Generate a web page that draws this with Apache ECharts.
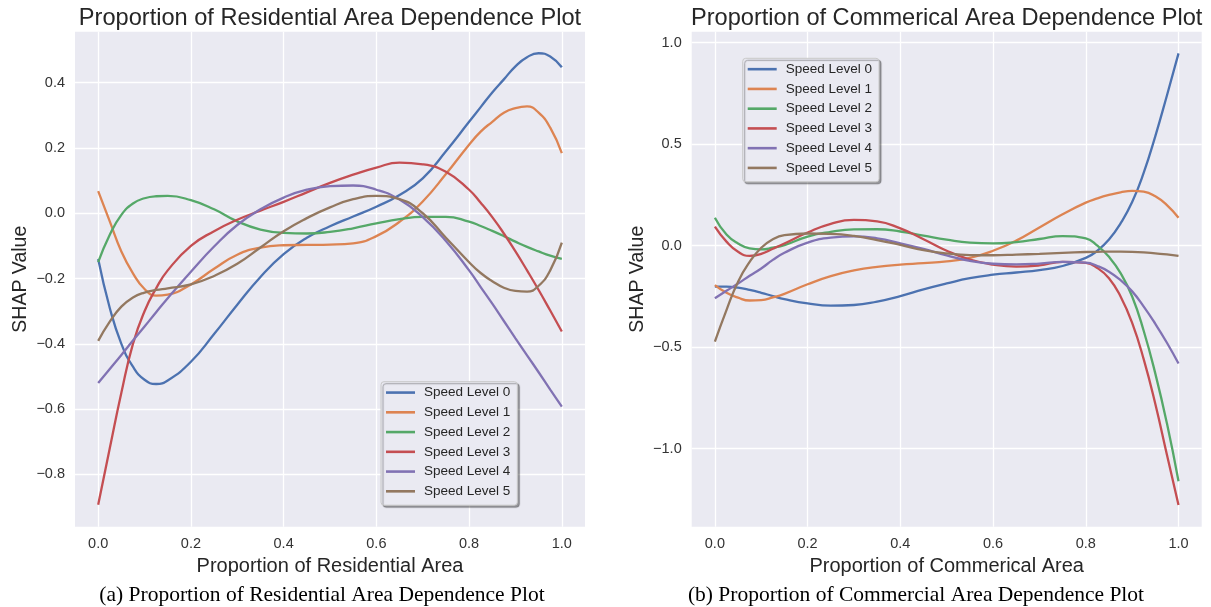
<!DOCTYPE html>
<html>
<head>
<meta charset="utf-8">
<script src="https://cdn.jsdelivr.net/npm/echarts@6/dist/echarts.min.js"></script>
<style>
html,body{margin:0;padding:0;background:#fff;}
#chart{width:1211px;height:607px;}
</style>
</head>
<body>
<div id="chart"></div>
<script>
// ---------- data ----------
const seriesNames = ['Speed Level 0','Speed Level 1','Speed Level 2','Speed Level 3','Speed Level 4','Speed Level 5'];
const xSample = [0,0.025,0.05,0.075,0.1,0.125,0.15,0.2,0.25,0.3,0.35,0.4,0.45,0.5,0.55,0.6,0.65,0.7,0.75,0.8,0.825,0.85,0.875,0.9,0.925,0.95,0.975,1.0];
const xTicks = [0,0.2,0.4,0.6,0.8,1.0];
const yTicksRes = [-0.8,-0.6,-0.4,-0.2,0,0.2,0.4];
const yTicksCom = [-1.0,-0.5,0,0.5,1.0];

// Residential area (left)
const resLevel0 = [-0.14,-0.29,-0.40,-0.47,-0.51,-0.523,-0.512,-0.455,-0.37,-0.28,-0.195,-0.125,-0.075,-0.04,-0.01,0.02,0.056,0.107,0.19,0.28,0.325,0.37,0.41,0.45,0.478,0.49,0.48,0.447];
const resLevel1 = [0.068,-0.025,-0.117,-0.184,-0.232,-0.252,-0.249,-0.218,-0.17,-0.127,-0.105,-0.098,-0.097,-0.096,-0.092,-0.07,-0.026,0.036,0.12,0.21,0.25,0.28,0.308,0.322,0.327,0.308,0.262,0.184];
const resLevel2 = [-0.15,-0.066,-0.005,0.03,0.046,0.052,0.053,0.04,0.012,-0.025,-0.05,-0.06,-0.062,-0.057,-0.046,-0.031,-0.018,-0.011,-0.011,-0.026,-0.039,-0.054,-0.07,-0.087,-0.103,-0.117,-0.13,-0.14];
const resLevel3 = [-0.893,-0.72,-0.55,-0.40,-0.30,-0.23,-0.175,-0.10,-0.055,-0.02,0.008,0.035,0.064,0.093,0.118,0.14,0.155,0.15,0.127,0.072,0.032,-0.012,-0.062,-0.117,-0.175,-0.235,-0.298,-0.362];
const resLevel4 = [-0.52,-0.477,-0.434,-0.39,-0.347,-0.303,-0.26,-0.179,-0.102,-0.036,0.012,0.048,0.072,0.083,0.085,0.072,0.042,-0.012,-0.085,-0.175,-0.226,-0.277,-0.33,-0.383,-0.435,-0.487,-0.54,-0.592];
const resLevel5 = [-0.391,-0.332,-0.286,-0.258,-0.243,-0.235,-0.23,-0.218,-0.192,-0.155,-0.105,-0.055,-0.015,0.018,0.043,0.053,0.043,0.0,-0.075,-0.15,-0.183,-0.208,-0.228,-0.238,-0.24,-0.222,-0.175,-0.09];

// Commercial area (right)
const comLevel0 = [-0.202,-0.202,-0.207,-0.218,-0.232,-0.248,-0.263,-0.284,-0.295,-0.292,-0.275,-0.248,-0.215,-0.186,-0.16,-0.143,-0.132,-0.12,-0.1,-0.06,-0.025,0.03,0.11,0.215,0.36,0.54,0.74,0.947];
const comLevel1 = [-0.194,-0.232,-0.256,-0.27,-0.268,-0.255,-0.237,-0.19,-0.15,-0.122,-0.104,-0.093,-0.086,-0.077,-0.06,-0.025,0.025,0.09,0.155,0.212,0.233,0.25,0.263,0.27,0.266,0.243,0.2,0.138];
const comLevel2 = [0.138,0.055,0.011,-0.013,-0.018,-0.01,0.003,0.045,0.068,0.08,0.081,0.07,0.05,0.03,0.015,0.011,0.018,0.033,0.047,0.036,0.0,-0.055,-0.135,-0.25,-0.42,-0.63,-0.875,-1.16];
const comLevel3 = [0.094,0.02,-0.03,-0.05,-0.04,-0.015,0.011,0.065,0.108,0.127,0.12,0.085,0.032,-0.025,-0.068,-0.093,-0.103,-0.097,-0.08,-0.085,-0.11,-0.16,-0.25,-0.38,-0.56,-0.78,-1.03,-1.277];
const comLevel4 = [-0.259,-0.222,-0.186,-0.148,-0.112,-0.07,-0.035,0.015,0.04,0.046,0.036,0.012,-0.016,-0.048,-0.075,-0.089,-0.092,-0.088,-0.08,-0.083,-0.1,-0.128,-0.17,-0.225,-0.3,-0.385,-0.478,-0.58];
const comLevel5 = [-0.473,-0.317,-0.177,-0.08,-0.01,0.032,0.052,0.06,0.058,0.048,0.028,0.004,-0.022,-0.038,-0.046,-0.047,-0.044,-0.04,-0.035,-0.031,-0.03,-0.029,-0.029,-0.03,-0.033,-0.038,-0.043,-0.05];

const resSeries = [resLevel0,resLevel1,resLevel2,resLevel3,resLevel4,resLevel5];
const comSeries = [comLevel0,comLevel1,comLevel2,comLevel3,comLevel4,comLevel5];

// ---------- style ----------
const colors = ['#4C72B0','#DD8452','#55A868','#C44E52','#8172B3','#937860'];
const SANS = '"Liberation Sans", Arial, sans-serif';
const SERIF = '"Liberation Serif", "Times New Roman", serif';
const fmt = v => (v < 0 ? '\u2212' : '') + Math.abs(v).toFixed(1);

function xAxisDef(gridIndex, name){
  return {
    type:'value', gridIndex, min:-0.05, max:1.05,
    name, nameLocation:'middle', nameGap:25,
    nameTextStyle:{fontFamily:SANS, fontSize:20, color:'#262626'},
    axisLine:{show:false}, axisTick:{show:false, customValues:xTicks},
    axisLabel:{customValues:xTicks, formatter:fmt, margin:10, fontFamily:SANS, fontSize:14.5, color:'#333'},
    splitLine:{show:true, lineStyle:{color:'#ffffff', width:1.3}}
  };
}
function yAxisDef(gridIndex, min, max, ticks){
  return {
    type:'value', gridIndex, min, max,
    name:'SHAP Value', nameLocation:'middle', nameGap:44,
    nameTextStyle:{fontFamily:SANS, fontSize:19.5, color:'#262626'},
    axisLine:{show:false}, axisTick:{show:false, customValues:ticks},
    axisLabel:{customValues:ticks, formatter:fmt, margin:10, fontFamily:SANS, fontSize:14.5, color:'#333'},
    splitLine:{show:true, lineStyle:{color:'#ffffff', width:1.3}}
  };
}
function makeSeries(arr, idx){
  return arr.map((ys, i) => ({
    type:'line', name:seriesNames[i], xAxisIndex:idx, yAxisIndex:idx,
    data: xSample.map((x, k) => [x, ys[k]]),
    smooth:0.5, showSymbol:false, symbol:'none',
    color:colors[i],
    lineStyle:{color:colors[i], width:2.3},
    silent:true, animation:false
  }));
}
function legendDef(left, top){
  return {
    orient:'vertical', left, top,
    data:seriesNames,
    icon:'rect', itemWidth:29, itemHeight:2.6, itemGap:0,
    padding:[1,7,4,5],
    backgroundColor:'#EAEAF2', borderColor:'#c8c8c8', borderWidth:1, borderRadius:3,
    shadowColor:'rgba(0,0,0,0.35)', shadowOffsetX:2, shadowOffsetY:2, shadowBlur:1,
    textStyle:{fontFamily:SANS, fontSize:13.5, color:'#262626', lineHeight:19.75, padding:[0,0,0,4]},
    selectedMode:false
  };
}

const chart = echarts.init(document.getElementById('chart'), null, {renderer:'canvas'});
chart.setOption({
  backgroundColor:'#ffffff',
  animation:false,
  title:[
    {text:'Proportion of Residential Area Dependence Plot', left:330, top:5, padding:0, textAlign:'center',
     textStyle:{fontFamily:SANS, fontSize:23.6, fontWeight:'normal', color:'#262626', lineHeight:26}},
    {text:'Proportion of Commerical Area Dependence Plot', left:946.7, top:5, padding:0, textAlign:'center',
     textStyle:{fontFamily:SANS, fontSize:23.6, fontWeight:'normal', color:'#262626', lineHeight:26}}
  ],
  grid:[
    {left:75, top:31.7, width:510, height:495, show:true, backgroundColor:'#EAEAF2', borderWidth:0, containLabel:false},
    {left:691.7, top:31.7, width:510, height:495, show:true, backgroundColor:'#EAEAF2', borderWidth:0, containLabel:false}
  ],
  xAxis:[xAxisDef(0,'Proportion of Residential Area'), xAxisDef(1,'Proportion of Commerical Area')],
  yAxis:[yAxisDef(0,-0.96,0.556,yTicksRes), yAxisDef(1,-1.384,1.054,yTicksCom)],
  legend:[legendDef(381,381.7), legendDef(742.7,58.3)],
  series:[...makeSeries(resSeries,0), ...makeSeries(comSeries,1)],
  graphic:[
    {type:'text', x:322, y:595, style:{text:'(a) Proportion of Residential Area Dependence Plot', font:'21.5px ' + SERIF, fill:'#000', textAlign:'center', textVerticalAlign:'middle'}},
    {type:'text', x:916, y:595, style:{text:'(b) Proportion of Commercial Area Dependence Plot', font:'21.5px ' + SERIF, fill:'#000', textAlign:'center', textVerticalAlign:'middle'}}
  ]
});
</script>
</body>
</html>
